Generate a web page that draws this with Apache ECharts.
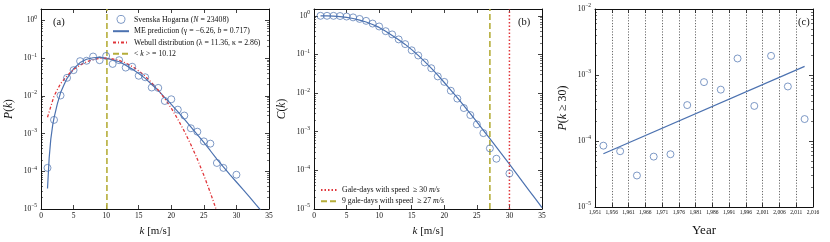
<!DOCTYPE html>
<html><head><meta charset="utf-8">
<script src="https://cdn.jsdelivr.net/npm/echarts@6/dist/echarts.min.js"></script>
<style>html,body{margin:0;padding:0;background:#fff}#c{width:830px;height:242px}</style>
</head><body><div id="c"></div>
<script>
// ---------- data ----------
const kObs = [1,2,3,4,5,6,7,8,9,10,11,12,13,14,15,16,17,18,19,20,21,22,23,24,25,26,27,28,30];
const pObs = [1.23e-4,2.3e-3,1.02e-2,3.0e-2,4.8e-2,8.3e-2,8.5e-2,1.1e-1,8.8e-2,1.14e-1,7.0e-2,8.8e-2,5.6e-2,5.9e-2,3.4e-2,3.1e-2,1.66e-2,1.62e-2,7.3e-3,8.1e-3,4.3e-3,3.0e-3,1.38e-3,1.12e-3,6.2e-4,5.4e-4,1.66e-4,1.23e-4,8.1e-5];
const meK = [1,1.25,1.5,1.8,2,2.5,3,3.5,4,5,6,7,8,9,10,11,12,13,14,15,16,17,18,19,20,21,22,23,24,25,26,27,28,29,30,31,32,33,34];
const meP = [3.5e-5,2.2e-4,7.0e-4,1.7e-3,2.6e-3,6.0e-3,1.2e-2,1.9e-2,2.9e-2,5.2e-2,7.6e-2,9.3e-2,1.02e-1,1.05e-1,1.0e-1,9.0e-2,8.0e-2,6.5e-2,5.1e-2,3.9e-2,2.9e-2,2.0e-2,1.4e-2,9.0e-3,5.9e-3,3.8e-3,2.4e-3,1.5e-3,9.4e-4,5.8e-4,3.5e-4,2.1e-4,1.3e-4,8.2e-5,5.2e-5,3.3e-5,2.1e-5,1.3e-5,8.2e-6];
const weibK = [1,2,3,4,5,6,7,8,9,10,11,12,13,14,15,16,17,18,19,20,21,22,23,24,25,26,27];
const weibP = [2.7e-3,9.9e-3,2.1e-2,3.4e-2,5.0e-2,6.5e-2,8.0e-2,9.1e-2,9.8e-2,9.9e-2,9.5e-2,8.7e-2,7.4e-2,6.0e-2,4.6e-2,3.3e-2,2.2e-2,1.4e-2,8.4e-3,4.7e-3,2.4e-3,1.15e-3,5.1e-4,2.1e-4,7.8e-5,2.7e-5,8.6e-6];
const meanK = 10.12;

const cObs = [1.0,0.9999,0.998,0.987,0.957,0.91,0.83,0.74,0.63,0.53,0.40,0.33,0.245,0.185,0.128,0.094,0.062,0.044,0.027,0.0195,0.0115,0.0072,0.0041,0.0027,0.00155,0.00092,0.00037,0.0002,8.3e-5];
const meCK = [1,2,3,4,5,6,7,8,9,10,11,12,13,14,15,16,17,18,19,20,21,22,23,24,25,26,27,28,29,30,31,32,33,34,35];
const meC = [1.0,0.995,0.982,0.955,0.912,0.851,0.776,0.692,0.596,0.501,0.398,0.309,0.240,0.182,0.133,0.0944,0.0653,0.0442,0.0292,0.0188,0.0120,0.00759,0.00473,0.00292,0.00179,0.00109,0.00066,0.000398,0.00024,0.000145,8.6e-5,5.1e-5,3.05e-5,1.82e-5,1.08e-5];
const galeK = 30, gale9K = 27;

const years = [1953.5,1958.5,1963.5,1968.5,1973.5,1978.5,1983.5,1988.5,1993.5,1998.5,2003.5,2008.5,2013.5];
const pGale = [8.5e-5,7.0e-5,3.0e-5,5.8e-5,6.3e-5,3.5e-4,7.8e-4,6.0e-4,1.78e-3,3.4e-4,1.95e-3,6.7e-4,2.15e-4];
const fitYears = [1953.5, 2013.5];
const fitP = [6.4e-5, 1.35e-3];

// ---------- styling ----------
const FONT = 'Liberation Serif';
const BLUE = '#4c72b0', RED = '#e0353a', OLIVE = '#b5ad3a', INK = '#111';
const zip = (a, b) => a.map((v, i) => [v, b[i]]);

function supLabel(v) {
  const l = Math.log10(v), e = Math.round(l);
  if (Math.abs(l - e) > 1e-6) return '';
  return '{b|10}{s|' + (e < 0 ? '\u2212' + (-e) : e) + '}';
}
const supRich = {
  b: {fontFamily: FONT, fontSize: 7.5, lineHeight: 12, color: INK},
  s: {fontFamily: FONT, fontSize: 5.5, lineHeight: 6, verticalAlign: 'top', color: INK}
};
function minorVals(eMin, eMax) {
  const out = [];
  for (let e = eMin; e < eMax; e++) for (let m = 2; m <= 9; m++) out.push(m * Math.pow(10, e));
  return out;
}
const nameStyle = (fs) => ({fontFamily: FONT, fontSize: fs, color: INK,
  rich: {i: {fontFamily: FONT, fontSize: fs, fontStyle: 'italic', color: INK}}});

function xAxes(grid, min, max, interval, labelSize, name, nameSize, grid_c) {
  const base = {type: 'value', gridIndex: grid, min, max, interval,
    axisLine: {show: true, lineStyle: {color: INK, width: 1}},
    axisTick: {show: true, inside: true, length: 4, lineStyle: {color: INK, width: 0.8}},
    splitLine: {show: false}};
  const bottom = Object.assign({}, base, {position: 'bottom',
    axisLabel: {show: true, fontFamily: FONT, fontSize: labelSize, color: INK, margin: 3},
    name, nameLocation: 'middle', nameGap: 17, nameTextStyle: nameStyle(nameSize)});
  if (grid_c) bottom.splitLine = {show: true, lineStyle: {color: '#444', width: 0.8, type: [1.2, 1.6]}};
  const top = Object.assign({}, base, {position: 'top', axisLabel: {show: false}});
  return [bottom, top];
}
function yAxes(grid, min, max, eMin, eMax, name, nameGap, nameSize) {
  const base = {type: 'log', logBase: 10, gridIndex: grid, min, max,
    splitLine: {show: false}};
  const minor = minorVals(eMin, eMax).filter(v => v > min && v < max);
  const leftMajor = Object.assign({}, base, {position: 'left',
    axisLine: {show: true, lineStyle: {color: INK, width: 1}},
    axisTick: {show: true, inside: true, length: 4, lineStyle: {color: INK, width: 0.8}},
    axisLabel: {show: true, margin: 4, formatter: supLabel, rich: supRich, showMaxLabel: true},
    name, nameLocation: 'middle', nameGap, nameTextStyle: nameStyle(nameSize)});
  const leftMinor = Object.assign({}, base, {position: 'left',
    axisLine: {show: false}, axisLabel: {show: false},
    axisTick: {show: true, inside: true, length: 2, customValues: minor, lineStyle: {color: INK, width: 0.6}}});
  const rightMajor = Object.assign({}, base, {position: 'right',
    axisLine: {show: true, lineStyle: {color: INK, width: 1}},
    axisTick: {show: true, inside: true, length: 4, lineStyle: {color: INK, width: 0.8}},
    axisLabel: {show: false}});
  const rightMinor = Object.assign({}, base, {position: 'right',
    axisLine: {show: false}, axisLabel: {show: false},
    axisTick: {show: true, inside: true, length: 2, customValues: minor, lineStyle: {color: INK, width: 0.6}}});
  return [leftMajor, leftMinor, rightMajor, rightMinor];
}

const xa = xAxes(0, 0, 35, 5, 7.5, '{i|k} [m/s]', 11);
const xb = xAxes(1, 0, 35, 5, 7.5, '{i|k} [m/s]', 11);
const xc = xAxes(2, 1951, 2016, 5, 5.5, 'Year', 13, true);
const ya = yAxes(0, 1e-5, 2, -5, 1, '{i|P}({i|k})', 26, 11.5);
const yb = yAxes(1, 1e-5, 1.5, -5, 1, '{i|C}({i|k})', 26, 11.5);
const yc = yAxes(2, 1e-5, 1e-2, -5, -2, '{i|P}({i|k} \u2265 30)', 26, 12);

const circle = (name, xi, yi, data) => ({type: 'scatter', name, xAxisIndex: xi, yAxisIndex: yi,
  data, symbol: 'circle', symbolSize: 7,
  itemStyle: {color: 'rgba(255,255,255,0)', borderColor: BLUE, borderWidth: 0.9}, z: 3});
const line = (name, xi, yi, data, color, width, type) => ({type: 'line', name, xAxisIndex: xi, yAxisIndex: yi,
  data, symbol: 'none', showSymbol: false, smooth: false, clip: true,
  lineStyle: {color, width, type}, itemStyle: {color}, z: 2});

const legendA = {
  'Svenska': 'Svenska Hogarna ({i|N} = 23408)',
  'ME': 'ME prediction (\u03b3 = \u22126.26, {i|b} = 0.717)',
  'Weibull': 'Webull distribution (\u03bb = 11.36, \u03ba = 2.86)',
  'mean': '< {i|k} > = 10.12',
  'gale30': 'Gale-days with speed  \u2265 30 {i|m/s}',
  'gale27': '9 gale-days with speed  \u2265 27 {i|m/s}'
};
const legTxt = {fontFamily: FONT, fontSize: 7.8, color: INK, lineHeight: 8,
  rich: {i: {fontFamily: FONT, fontSize: 7.8, fontStyle: 'italic', color: INK, lineHeight: 8}}};
const noSym = {opacity: 0};

const option = {
  animation: false,
  backgroundColor: '#fff',
  grid: [
    {left: 41, top: 9, width: 228, height: 203.5},
    {left: 314, top: 9, width: 228, height: 203.5},
    {left: 595, top: 9, width: 218, height: 203.5}
  ],
  xAxis: [...xa, ...xb, ...xc],
  yAxis: [...ya, ...yb, ...yc],
  legend: [
    {left: 112, top: 15, padding: 0, orient: 'vertical', itemWidth: 16, itemHeight: 8, itemGap: 3.3,
     data: [{name: 'Svenska', itemStyle: {color: 'rgba(255,255,255,0)', borderColor: BLUE, borderWidth: 0.9}},
            {name: 'ME', itemStyle: noSym}, {name: 'Weibull', itemStyle: noSym}, {name: 'mean', itemStyle: noSym}],
     formatter: n => legendA[n], textStyle: legTxt, selectedMode: false},
    {left: 320, top: 186, padding: 0, orient: 'vertical', itemWidth: 16, itemHeight: 8, itemGap: 3.3,
     data: [{name: 'gale30', itemStyle: noSym}, {name: 'gale27', itemStyle: noSym}],
     formatter: n => legendA[n], textStyle: legTxt, selectedMode: false}
  ],
  graphic: [
    {type: 'text', left: 53, top: 17, style: {text: '(a)', font: '10.5px "Liberation Serif"', fill: INK}},
    {type: 'text', left: 518, top: 17, style: {text: '(b)', font: '10.5px "Liberation Serif"', fill: INK}},
    {type: 'text', left: 798, top: 17, style: {text: '(c)', font: '10.5px "Liberation Serif"', fill: INK}}
  ],
  series: [
    line('ME', 0, 0, zip(meK, meP), BLUE, 1.2, 'solid'),
    line('Weibull', 0, 0, zip(weibK, weibP), RED, 1.3, [3, 2, 1, 2]),
    line('mean', 0, 0, [[meanK, 1e-5], [meanK, 2]], OLIVE, 1.6, [6, 3]),
    circle('Svenska', 0, 0, zip(kObs, pObs)),

    line('MEC', 2, 4, zip(meCK, meC), BLUE, 1.2, 'solid'),
    line('gale30', 2, 4, [[galeK, 1e-5], [galeK, 1.5]], RED, 1.5, [1.5, 2]),
    line('gale27', 2, 4, [[gale9K, 1e-5], [gale9K, 1.5]], OLIVE, 1.6, [6, 3]),
    circle('Cobs', 2, 4, zip(kObs, cObs)),

    line('fit', 4, 8, zip(fitYears, fitP), BLUE, 1.2, 'solid'),
    circle('gale', 4, 8, zip(years, pGale))
  ]
};
const chart = echarts.init(document.getElementById('c'), null, {renderer: 'canvas'});
chart.setOption(option);
</script></body></html>
